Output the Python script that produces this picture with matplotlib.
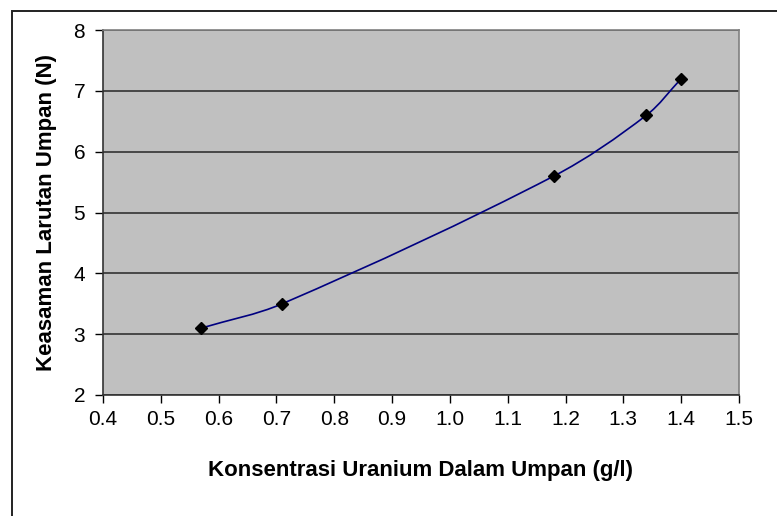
import matplotlib
matplotlib.use("Agg")
import matplotlib.pyplot as plt
from matplotlib.path import Path
from matplotlib.patches import PathPatch, Rectangle
import numpy as np

# data
konsentrasi = [0.57, 0.71, 1.18, 1.34, 1.40]
keasaman = [3.1, 3.5, 5.6, 6.6, 7.2]
x_ticks = [0.4, 0.5, 0.6, 0.7, 0.8, 0.9, 1.0, 1.1, 1.2, 1.3, 1.4, 1.5]
y_ticks = [2, 3, 4, 5, 6, 7, 8]

plt.rcParams['font.family'] = ['Liberation Sans', 'DejaVu Sans']


def smooth_path(ax, xs, ys):
    # Excel-style smoothed line: cubic bezier, tangents weighted by
    # the on-screen length of the neighbouring segments
    pts = np.column_stack([xs, ys]).astype(float)
    scr = ax.transData.transform(pts)
    seg = np.hypot(*np.diff(scr, axis=0).T)
    n = len(pts)
    verts = [pts[0]]
    codes = [Path.MOVETO]
    for i in range(n - 1):
        if i == 0:
            c1 = pts[i] + (pts[i + 1] - pts[i]) / 3.0
        else:
            w = seg[i] / (seg[i - 1] + seg[i])
            c1 = pts[i] + (pts[i + 1] - pts[i - 1]) * w / 3.0
        if i + 2 >= n:
            c2 = pts[i + 1] - (pts[i + 1] - pts[i]) / 3.0
        else:
            w = seg[i] / (seg[i] + seg[i + 1])
            c2 = pts[i + 1] - (pts[i + 2] - pts[i]) * w / 3.0
        verts += [c1, c2, pts[i + 1]]
        codes += [Path.CURVE4] * 3
    return Path(verts, codes)


fig = plt.figure(figsize=(7.77, 5.16), dpi=100)
ax = fig.add_axes([103 / 777, 121 / 516, 636 / 777, 365 / 516])
ax.set_facecolor('#c0c0c0')

# outer chart border (only top/left visible in the original)
fig.patches.append(Rectangle((12 / 777, -0.2), 1.5, 0.2 + 1 - 11 / 516,
                             transform=fig.transFigure, fill=False,
                             edgecolor='#222222', linewidth=1.4))

ax.set_xlim(0.4, 1.5)
ax.set_ylim(2, 8)

ax.add_patch(PathPatch(smooth_path(ax, konsentrasi, keasaman), fill=False,
                       edgecolor='#000080', linewidth=1.2, zorder=3))
ax.plot(konsentrasi, keasaman, linestyle='none', marker='D', markersize=6.5,
        color='black', zorder=4)

ax.set_xticks(x_ticks)
ax.set_xticklabels([f'{v:.1f}' for v in x_ticks])
ax.set_yticks(y_ticks)
ax.yaxis.grid(True, color='#333333', linewidth=1.2)
ax.set_axisbelow(True)
for s in ax.spines.values():
    s.set_color('#808080')
    s.set_linewidth(1.2)
ax.spines['left'].set_color('#333333')
ax.spines['bottom'].set_color('#333333')
ax.tick_params(direction='out', length=5.8, width=1, colors='black',
               labelsize=15)
ax.tick_params(axis='y', pad=7)
ax.tick_params(axis='x', pad=5)

ax.set_xlabel('Konsentrasi Uranium Dalam Umpan (g/l)', fontsize=16,
              fontweight='bold', labelpad=22)
ax.set_ylabel('Keasaman Larutan Umpan (N)', fontsize=16,
              fontweight='bold', labelpad=12)

fig.savefig('out.png', dpi=100)
